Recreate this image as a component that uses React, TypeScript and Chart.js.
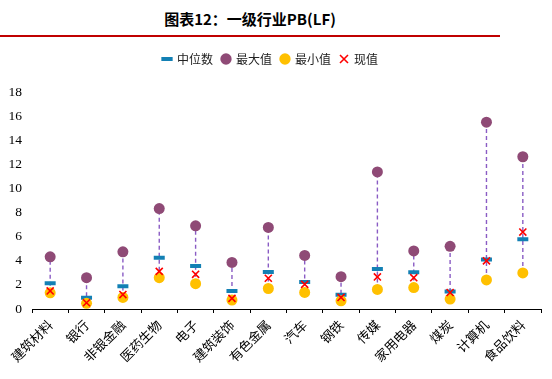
import React, { useEffect, useRef } from "react";
import { Chart, registerables } from "chart.js";

Chart.register(...registerables);

const categories = ["建筑材料", "银行", "非银金融", "医药生物", "电子", "建筑装饰", "有色金属", "汽车", "钢铁", "传媒", "家用电器", "煤炭", "计算机", "食品饮料"];
const medianValues = [2.14, 0.93, 1.89, 4.25, 3.56, 1.5, 3.07, 2.25, 1.18, 3.32, 3.04, 1.45, 4.1, 5.78];
const maxValues = [4.33, 2.6, 4.74, 8.33, 6.9, 3.86, 6.77, 4.44, 2.68, 11.37, 4.82, 5.2, 15.5, 12.63];
const minValues = [1.34, 0.47, 0.96, 2.6, 2.1, 0.74, 1.7, 1.37, 0.68, 1.62, 1.78, 0.82, 2.41, 2.99];
const currentValues = [1.5, 0.52, 1.2, 3.12, 2.88, 0.88, 2.55, 2.05, 0.96, 2.66, 2.6, 1.37, 4.0, 6.38];
const seriesNames = ["中位数", "最大值", "最小值", "现值"];

const CJK = '"Noto Sans CJK SC", sans-serif';
const SERIF = '"Liberation Serif", "Times New Roman", serif';

const rangeLines = {
  id: "rangeLines",
  beforeDatasetsDraw(chart: any) {
    const { ctx, scales } = chart;
    const x = scales.x;
    const y = scales.y;
    ctx.save();
    ctx.strokeStyle = "#8a5cc4";
    ctx.lineWidth = 1.4;
    ctx.setLineDash([4, 3]);
    for (let i = 0; i < categories.length; i++) {
      const px = x.getPixelForValue(i);
      ctx.beginPath();
      ctx.moveTo(px, y.getPixelForValue(minValues[i]));
      ctx.lineTo(px, y.getPixelForValue(maxValues[i]));
      ctx.stroke();
    }
    ctx.restore();
  },
};

const legendGap = {
  id: "legendGap",
  beforeInit(chart: any) {
    const legend = chart.legend;
    if (!legend) return;
    const origFit = legend.fit;
    legend.fit = function () {
      origFit.call(this);
      this.height += 17;
    };
  },
};

export default function App() {
  const ref = useRef<HTMLCanvasElement | null>(null);

  useEffect(() => {
    document.body.style.margin = "0";
    const canvas = ref.current;
    if (!canvas) return;
    const chart = new Chart(canvas, {
      type: "line",
      data: {
        labels: categories,
        datasets: [
          {
            label: seriesNames[0],
            data: medianValues,
            showLine: false,
            pointStyle: "line",
            pointRadius: 5.5,
            pointHoverRadius: 5.5,
            pointBorderWidth: 4,
            pointBorderColor: "#1380b4",
            pointBackgroundColor: "#1380b4",
            order: 2,
          },
          {
            label: seriesNames[1],
            data: maxValues,
            showLine: false,
            pointStyle: "circle",
            pointRadius: 5.5,
            pointHoverRadius: 5.5,
            pointBorderWidth: 0,
            pointBorderColor: "#8f4a76",
            pointBackgroundColor: "#8f4a76",
            order: 3,
          },
          {
            label: seriesNames[2],
            data: minValues,
            showLine: false,
            pointStyle: "circle",
            pointRadius: 5.5,
            pointHoverRadius: 5.5,
            pointBorderWidth: 0,
            pointBorderColor: "#ffc000",
            pointBackgroundColor: "#ffc000",
            order: 1,
          },
          {
            label: seriesNames[3],
            data: currentValues,
            showLine: false,
            pointStyle: "crossRot",
            pointRadius: 5,
            pointHoverRadius: 5,
            pointBorderWidth: 1.6,
            pointBorderColor: "#ff0000",
            pointBackgroundColor: "#ff0000",
            order: 0,
          },
        ],
      },
      options: {
        responsive: false,
        animation: false,
        layout: { padding: { left: 0, right: 11, top: 0, bottom: 0 } },
        plugins: {
          tooltip: { enabled: false },
          legend: {
            display: true,
            position: "top",
            labels: {
              usePointStyle: true,
              boxWidth: 8,
              boxHeight: 8,
              padding: 9,
              color: "#222",
              font: { family: CJK, size: 12 },
              sort: (a: any, b: any) => a.datasetIndex - b.datasetIndex,
            },
          },
        },
        scales: {
          x: {
            type: "category",
            offset: true,
            grid: {
              offset: true,
              display: true,
              drawOnChartArea: false,
              drawTicks: true,
              tickLength: 4,
              tickColor: "#000",
            },
            border: { display: true, color: "#000", width: 1 },
            ticks: {
              color: "#000",
              font: { family: CJK, size: 13 },
              minRotation: 45,
              maxRotation: 45,
              autoSkip: false,
              padding: 4,
            },
            afterFit: (s: any) => {
              s.height = 70;
            },
          },
          y: {
            min: 0,
            max: 18,
            ticks: {
              stepSize: 2,
              color: "#000",
              font: { family: SERIF, size: 13.5 },
              padding: 10,
            },
            grid: { display: false, drawTicks: false },
            border: { display: false },
            afterFit: (s: any) => {
              s.width = 32;
            },
          },
        },
      },
      plugins: [rangeLines, legendGap],
    });
    return () => chart.destroy();
  }, []);

  return (
    <div style={{ position: "relative", width: 552, height: 379, background: "#fff", overflow: "hidden" }}>
      <div
        style={{
          position: "absolute",
          top: 8,
          left: 0,
          width: 500,
          textAlign: "center",
          fontFamily: CJK,
          fontWeight: 700,
          fontSize: 15,
          lineHeight: "22px",
          color: "#000",
        }}
      >
        图表12：一级行业PB(LF)
      </div>
      <div style={{ position: "absolute", top: 35, left: 0, width: 500, height: 2, background: "#c00000" }} />
      <div style={{ position: "absolute", top: 44, left: 0, width: 552, height: 335 }}>
        <canvas ref={ref} width={552} height={335} />
      </div>
    </div>
  );
}
